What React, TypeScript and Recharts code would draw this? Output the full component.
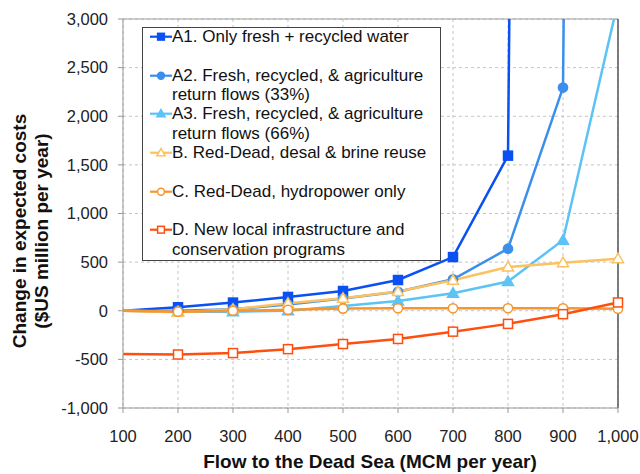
import React from "react";
import { LineChart, Line, XAxis, YAxis, CartesianGrid, ReferenceLine, Label } from "recharts";

// flow to the Dead Sea (MCM per year)
const flows = [100, 200, 300, 400, 500, 600, 700, 800, 900, 1000];

// change in expected costs ($US million per year); values past 3,000 run off the top
const a1Costs = [0, 36, 84, 142, 203, 316, 552, 1595, 60000, null];
const a2Costs = [0, 0, 15, 65, 125, 195, 323, 638, 2295, 60000];
const a3Costs = [0, -10, -10, 0, 50, 100, 180, 300, 726, 3180];
const bCosts = [0, -15, 15, 77, 128, 197, 313, 450, 494, 535];
const cCosts = [0, -10, 0, 10, 22, 25, 25, 25, 25, 20];
const dCosts = [-445, -450, -435, -395, -342, -290, -215, -135, -35, 85];

const yTicks = [-1000, -500, 0, 500, 1000, 1500, 2000, 2500, 3000];

type Shape = "square" | "circle" | "triangle";

const series: { key: string; lines: string[]; color: string; shape: Shape; filled: boolean; values: (number | null)[] }[] = [
  { key: "a1", lines: ["A1. Only fresh + recycled water"], color: "#0a50f2", shape: "square", filled: true, values: a1Costs },
  { key: "a2", lines: ["A2. Fresh, recycled, & agriculture", "return flows (33%)"], color: "#3b8fec", shape: "circle", filled: true, values: a2Costs },
  { key: "a3", lines: ["A3. Fresh, recycled, & agriculture", "return flows (66%)"], color: "#5cc3f7", shape: "triangle", filled: true, values: a3Costs },
  { key: "b", lines: ["B. Red-Dead, desal & brine reuse"], color: "#fcc160", shape: "triangle", filled: false, values: bCosts },
  { key: "c", lines: ["C. Red-Dead, hydropower only"], color: "#f7952e", shape: "circle", filled: false, values: cCosts },
  { key: "d", lines: ["D. New local infrastructure and", "conservation programs"], color: "#ff4f0f", shape: "square", filled: false, values: dCosts },
];

const rows = flows.map((flow, i) => {
  const row: Record<string, number | null> = { flow };
  series.forEach(s => (row[s.key] = s.values[i]));
  return row;
});

const fmt = (v: number) => v.toLocaleString("en-US");
const FONT = "'Liberation Sans', Arial, sans-serif";

function Marker({ shape, cx, cy, color, filled, k = 1 }: { shape: Shape; cx: number; cy: number; color: string; filled: boolean; k?: number }) {
  const fill = filled ? color : "#fff";
  if (shape === "square") {
    const h = 4.5 * k;
    return <rect x={cx - h} y={cy - h} width={2 * h} height={2 * h} fill={fill} stroke={color} strokeWidth={1.5} />;
  }
  if (shape === "circle") {
    return <circle cx={cx} cy={cy} r={4.6 * k} fill={fill} stroke={color} strokeWidth={1.5} />;
  }
  return (
    <polygon
      points={`${cx},${cy - 5.5 * k} ${cx + 5.5 * k},${cy + 4 * k} ${cx - 5.5 * k},${cy + 4 * k}`}
      fill={fill}
      stroke={color}
      strokeWidth={1.5}
    />
  );
}

// Excel-style: no marker on the first point at 100
const makeDot = (s: (typeof series)[number]) => (p: any) => {
  const { cx, cy, value, index } = p;
  if (index === 0 || cx == null || cy == null || value == null || value > 3000) return <g key={`${s.key}-${index}`} />;
  return (
    <g key={`${s.key}-${index}`}>
      <Marker shape={s.shape} cx={cx} cy={cy} color={s.color} filled={s.filled} />
    </g>
  );
};

function YTitle() {
  return (
    <g fontFamily={FONT} fontWeight="bold" fontSize={19} fill="#111">
      <text transform="translate(26, 231) rotate(-90)" textAnchor="middle">Change in expected costs</text>
      <text transform="translate(48, 231) rotate(-90)" textAnchor="middle">($US million per year)</text>
    </g>
  );
}

function XTitle() {
  return (
    <text x={370} y={468} textAnchor="middle" fontFamily={FONT} fontWeight="bold" fontSize={19} fill="#111">
      Flow to the Dead Sea (MCM per year)
    </text>
  );
}

function LegendBox() {
  return (
    <div
      style={{
        position: "absolute",
        left: 142,
        top: 27,
        width: 297,
        height: 232,
        border: "1px solid #444",
        background: "#fff",
        fontFamily: FONT,
        fontSize: 17,
        color: "#111",
      }}
    >
      {series.map((s, i) => (
        <div
          key={s.key}
          style={{ position: "relative", height: 38.7, lineHeight: "19.4px", paddingLeft: 29, marginTop: i === 0 ? -1 : 0 }}
        >
          <svg width={22} height={19} style={{ position: "absolute", left: 7, top: 0 }}>
            <line x1={0} y1={9.7} x2={22} y2={9.7} stroke={s.color} strokeWidth={2.2} />
            <Marker shape={s.shape} cx={11} cy={9.7} color={s.color} filled={s.filled} k={0.75} />
          </svg>
          {s.lines.map((t, j) => (
            <div key={j} style={{ whiteSpace: "nowrap" }}>{t}</div>
          ))}
        </div>
      ))}
    </div>
  );
}

export default function App() {
  return (
    <div style={{ position: "absolute", left: 0, top: 0, width: 640, height: 474, background: "#fff" }}>
      <LineChart width={640} height={474} data={rows} margin={{ top: 19, right: 22, left: 48, bottom: 36 }}>
        <CartesianGrid strokeDasharray="3 3" stroke="#c4c4c4" />
        <XAxis
          type="number"
          dataKey="flow"
          domain={[100, 1000]}
          ticks={flows}
          tickFormatter={fmt}
          height={30}
          tickSize={5}
          tickMargin={17}
          stroke="#999"
          tick={{ fontSize: 16.5, fill: "#222", fontFamily: FONT }}
        />
        <YAxis
          domain={[-1000, 3000]}
          ticks={yTicks}
          allowDataOverflow
          tickFormatter={fmt}
          width={75}
          tickSize={5}
          tickMargin={10}
          stroke="#999"
          tick={{ fontSize: 16.5, fill: "#222", fontFamily: FONT }}
        >
          <Label content={() => <YTitle />} />
        </YAxis>
        <ReferenceLine y={3000} stroke="#a0a0a0" />
        <ReferenceLine x={1000} stroke="#555" strokeWidth={1.5} />
        {series.map(s => (
          <Line
            key={s.key}
            type="linear"
            dataKey={s.key}
            stroke={s.color}
            strokeWidth={2.5}
            dot={makeDot(s)}
            activeDot={false}
            isAnimationActive={false}
          />
        ))}
        <XTitle />
      </LineChart>
      <LegendBox />
    </div>
  );
}
